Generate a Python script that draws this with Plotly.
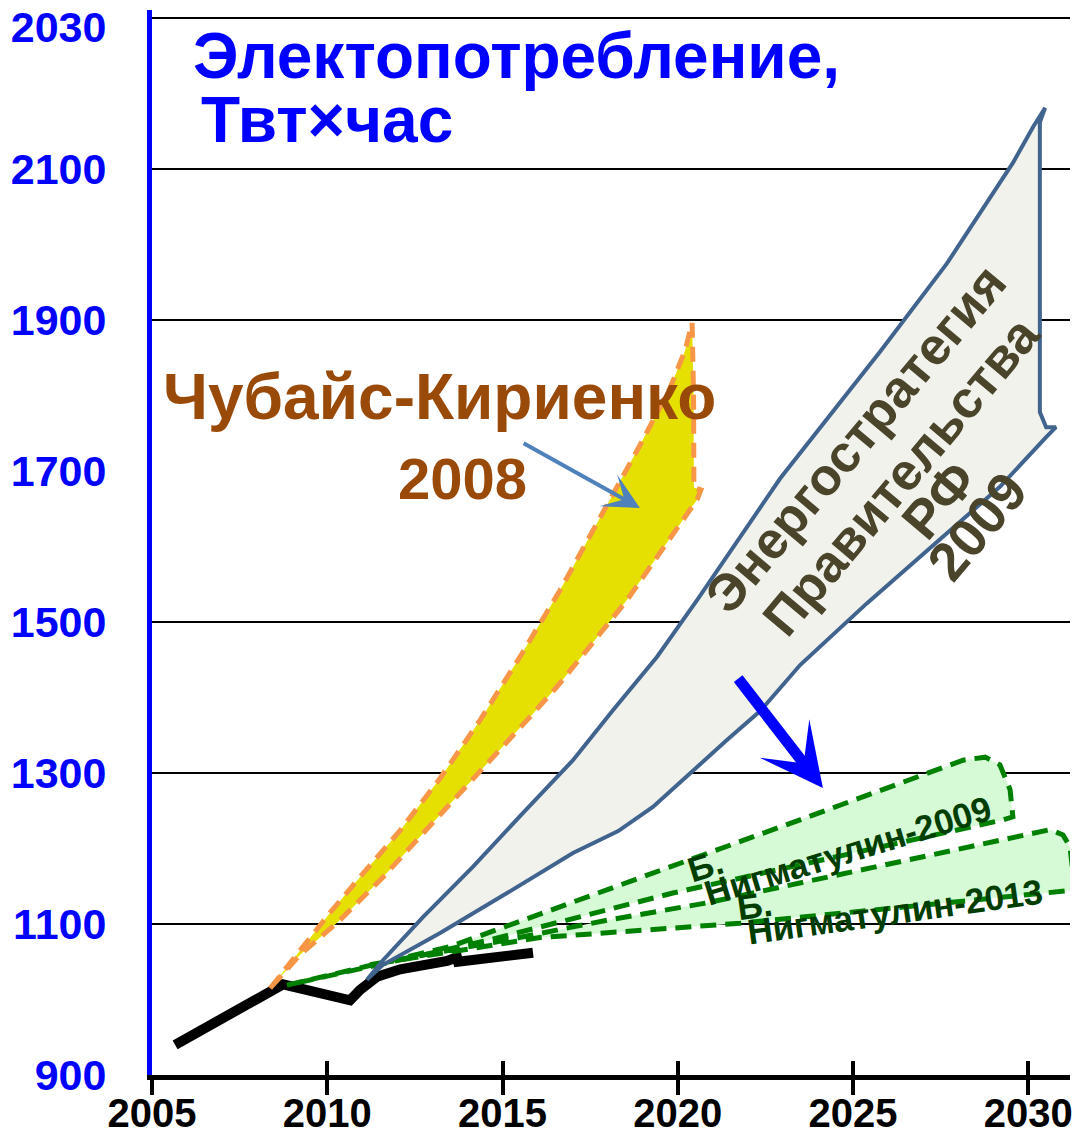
import plotly.graph_objects as go

# оси
x_range = [2005.0, 2031.19]
y_range = [900, 2310.6]
x_ticks = [2005, 2010, 2015, 2020, 2025, 2030]
# верхняя подпись в оригинале стоит чуть ниже линии сетки
y_ticks = [900, 1100, 1300, 1500, 1700, 1900, 2100, 2288]
y_ticktext = ['900', '1100', '1300', '1500', '1700', '1900', '2100', '2030']
grid_levels = [1100, 1300, 1500, 1900, 2100, 2300]

# фактическое электропотребление
fact_x = [2005.66, 2008.74, 2010.65, 2010.94, 2011.42, 2012.08, 2013.42, 2013.70, 2013.73, 2015.87]
fact_y = [940, 1020, 999, 1013, 1030, 1040, 1051, 1056, 1050, 1062]

# Чубайс-Кириенко 2008: верхняя граница, правый край, нижняя граница
ck_up_x = [2008.37, 2009.22, 2010.08, 2010.93, 2012.08, 2013.22, 2014.36, 2015.50,
           2016.64, 2017.78, 2018.92, 2019.78, 2020.21, 2020.41]
ck_up_y = [1015, 1066, 1115, 1162, 1224, 1293, 1370, 1454, 1542, 1638, 1734, 1810, 1860, 1896]
ck_edge_x = [2020.45, 2020.46, 2020.66]
ck_edge_y = [1800, 1678, 1675]
ck_lo_x = [2008.37, 2009.22, 2010.36, 2011.59, 2012.73, 2013.70, 2014.64, 2015.70,
           2016.55, 2017.41, 2018.55, 2019.78, 2020.55]
ck_lo_y = [1015, 1059, 1105, 1162, 1220, 1268, 1317, 1370, 1414, 1463, 1529, 1611, 1662]

# Энергостратегия Правительства РФ 2009
es_up_x = [2011.13, 2011.59, 2012.73, 2014.16, 2015.58, 2017.01, 2018.15, 2019.41,
           2020.55, 2022.92, 2025.77, 2027.68, 2029.56, 2030.14, 2030.48]
es_up_y = [1026, 1052, 1109, 1176, 1247, 1317, 1383, 1454, 1529, 1690, 1858, 1975, 2108, 2156, 2181]
es_edge_x = [2030.33, 2030.33, 2030.51, 2030.79]
es_edge_y = [2162, 1778, 1758, 1758]
es_lo_x = [2011.13, 2011.59, 2013.22, 2015.13, 2017.01, 2018.30, 2019.29, 2020.35,
           2021.41, 2022.35, 2023.49, 2025.40, 2027.28, 2029.19, 2030.51]
es_lo_y = [1026, 1046, 1088, 1141, 1194, 1223, 1255, 1300, 1344, 1382, 1443, 1525, 1602, 1679, 1745]

# Б. Нигматулин-2009
n09_up_x = [2008.85, 2013.50, 2023.49, 2028.14]
n09_up_y = [1019, 1070, 1238, 1317]
n09_edge_x = [2028.77, 2029.19, 2029.48, 2029.56]
n09_edge_y = [1321, 1311, 1278, 1242]
n09_lo_x = [2008.85, 2014.64, 2019.86, 2029.28]
n09_lo_y = [1019, 1079, 1141, 1238]

# Б. Нигматулин-2013
n13_up_x = [2011.22, 2015.13, 2017.98, 2020.83, 2030.62]
n13_up_y = [1046, 1079, 1105, 1128, 1225]
n13_edge_x = [2030.99, 2031.19, 2031.28]
n13_edge_y = [1218, 1202, 1158]
n13_lo_x = [2011.22, 2016.07, 2021.78, 2031.33]
n13_lo_y = [1046, 1082, 1101, 1145]


def band(up_x, up_y, edge_x, edge_y, lo_x, lo_y):
    """Замкнутый контур: верх слева направо, правый край, низ справа налево"""
    xs = up_x + edge_x + lo_x[::-1]
    ys = up_y + edge_y + lo_y[::-1]
    return xs, ys


fig = go.Figure()

fig.add_trace(go.Scatter(x=fact_x, y=fact_y, mode='lines',
                         line=dict(color='black', width=10)))

for bx, by in [band(n13_up_x, n13_up_y, n13_edge_x, n13_edge_y, n13_lo_x, n13_lo_y),
               band(n09_up_x, n09_up_y, n09_edge_x, n09_edge_y, n09_lo_x, n09_lo_y)]:
    fig.add_trace(go.Scatter(x=bx, y=by, mode='lines', fill='toself', fillcolor='#D6FAD6',
                             line=dict(color='#008000', width=5, dash='16px,9px')))

gx, gy = band(es_up_x, es_up_y, es_edge_x, es_edge_y, es_lo_x, es_lo_y)
fig.add_trace(go.Scatter(x=gx, y=gy, mode='lines', fill='toself', fillcolor='#F2F2EC',
                         line=dict(color='#41648F', width=4)))

yx, yy = band(ck_up_x, ck_up_y, ck_edge_x, ck_edge_y, ck_lo_x, ck_lo_y)
fig.add_trace(go.Scatter(x=yx, y=yy, mode='lines', fill='toself', fillcolor='#E6E000',
                         line=dict(color='#F79646', width=5, dash='15px,9px')))

# пустой след, чтобы отрисовалась ось x2 (засечки внутрь)
fig.add_trace(go.Scatter(x=[], y=[], xaxis='x2', mode='lines'))

for lvl in grid_levels:
    fig.add_shape(type='line', xref='paper', x0=0, x1=1, yref='y', y0=lvl, y1=lvl,
                  line=dict(color='black', width=2), layer='below')

bold = dict(family='Liberation Sans, Arial, sans-serif', weight='bold')
annotations = [
    dict(x=2006.11, y=2250, text='Электопотребление,', xanchor='left',
         font=dict(size=64, color='#0000FF', **bold)),
    dict(x=2006.35, y=2165, text='Твт×час', xanchor='left',
         font=dict(size=64, color='#0000FF', **bold)),
    dict(x=2013.19, y=1798, text='Чубайс-Кириенко',
         font=dict(size=64, color='#9A4A08', **bold)),
    dict(x=2013.87, y=1690, text='2008',
         font=dict(size=58, color='#9A4A08', **bold)),
    dict(x=2025.06, y=1743, text='Энергостратегия', textangle=-50,
         font=dict(size=52, color='#4A452A', **bold)),
    dict(x=2026.37, y=1693, text='Правительства', textangle=-50,
         font=dict(size=52, color='#4A452A', **bold)),
    dict(x=2027.43, y=1662, text='РФ', textangle=-50,
         font=dict(size=54, color='#4A452A', **bold)),
    dict(x=2028.54, y=1627, text='2009', textangle=-50,
         font=dict(size=54, color='#4A452A', **bold)),
    dict(x=2020.80, y=1177, text='Б.', textangle=-17,
         font=dict(size=35, color='#003D00', **bold)),
    dict(x=2024.85, y=1197, text='Нигматулин-2009', textangle=-17,
         font=dict(size=35, color='#003D00', **bold)),
    dict(x=2022.20, y=1125, text='Б.', textangle=-8,
         font=dict(size=35, color='#003D00', **bold)),
    dict(x=2026.20, y=1117, text='Нигматулин-2013', textangle=-8,
         font=dict(size=35, color='#003D00', **bold)),
]
for a in annotations:
    fig.add_annotation(xref='x', yref='y', showarrow=False, **a)

# стрелки
fig.add_annotation(x=2018.92, y=1651, ax=2015.56, ay=1738, xref='x', yref='y',
                   axref='x', ayref='y', text='', showarrow=True, arrowhead=3,
                   arrowsize=1.5, arrowwidth=4, arrowcolor='#4F81BD')
fig.add_annotation(x=2024.14, y=1280, ax=2021.69, ay=1427, xref='x', yref='y',
                   axref='x', ayref='y', text='', showarrow=True, arrowhead=3,
                   arrowsize=0.95, arrowwidth=11, arrowcolor='#0000FF')

fig.update_layout(
    width=1080, height=1140,
    margin=dict(l=152, r=10, t=10, b=65),
    plot_bgcolor='white', paper_bgcolor='white',
    showlegend=False,
    xaxis=dict(range=x_range, tickvals=x_ticks, showgrid=False, zeroline=False,
               automargin=False, showline=True, linecolor='black', linewidth=5,
               ticks='outside', ticklen=15, tickwidth=4, tickcolor='black',
               ticklabelstandoff=-16, ticklabeloverflow='allow',
               tickfont=dict(family='Liberation Sans, Arial, sans-serif',
                             size=40, color='black', weight='bold')),
    xaxis2=dict(range=x_range, overlaying='x', anchor='y', side='bottom',
                tickvals=x_ticks[1:], automargin=False,
                showgrid=False, zeroline=False, showticklabels=False,
                ticks='inside', ticklen=14, tickwidth=4, tickcolor='black'),
    yaxis=dict(range=y_range, tickvals=y_ticks, ticktext=y_ticktext, showgrid=False,
               zeroline=False, automargin=False, showline=True, linecolor='#0000FF',
               linewidth=5, ticks='', ticklabelstandoff=32, ticklabeloverflow='allow',
               tickfont=dict(family='Liberation Sans, Arial, sans-serif',
                             size=43, color='#0000FF', weight='bold')),
)

# убрать стандартный отступ страницы, чтобы рисунок занял всё окно
fig.write_html("out.html", config={'displayModeBar': False},
               post_script="document.body.style.margin='0';")
